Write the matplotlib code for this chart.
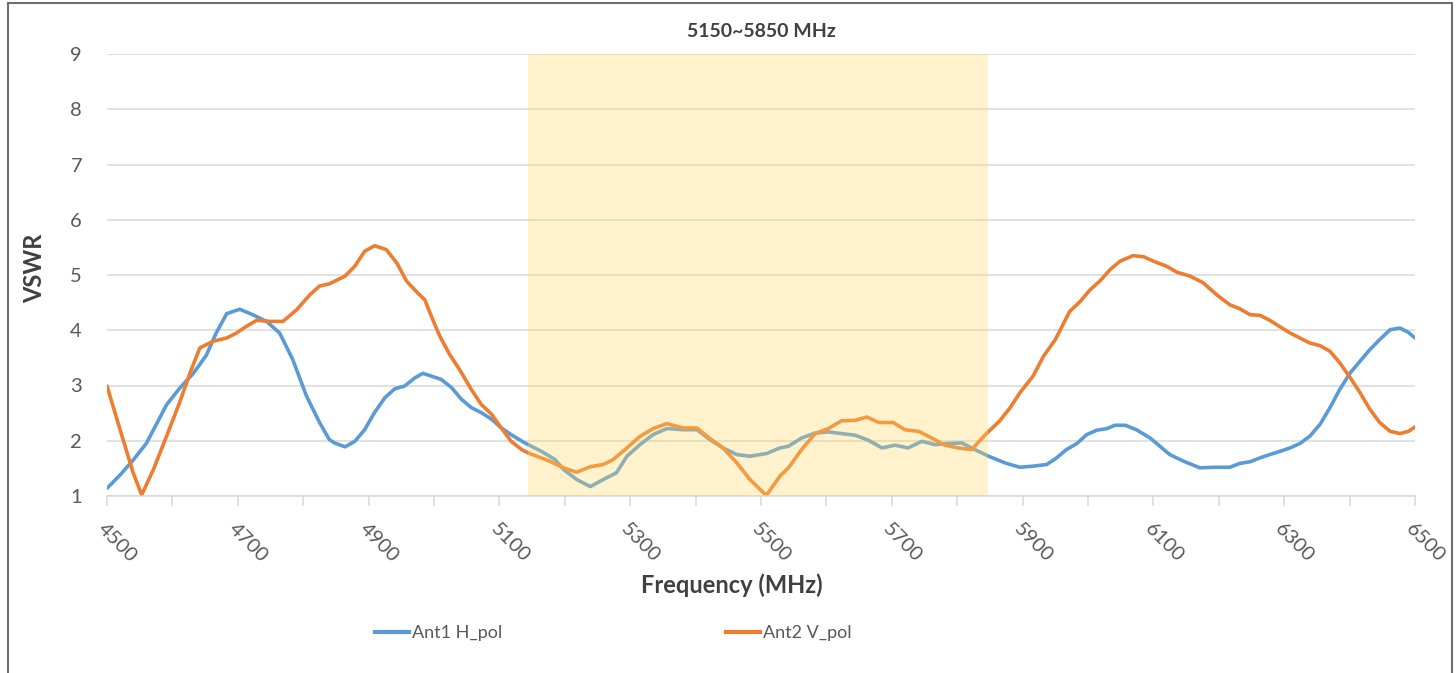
import matplotlib
matplotlib.use('Agg')
import matplotlib.pyplot as plt
from matplotlib.patches import Rectangle
from matplotlib.lines import Line2D

plt.rcParams['font.family'] = ['Lato', 'DejaVu Sans']

# Ant1 H_pol
freq_h = [4500, 4520, 4540, 4560, 4580, 4591, 4611, 4632, 4652, 4667, 4683, 4703,
          4723, 4744, 4764, 4784, 4805, 4825, 4840, 4848, 4864, 4879, 4894, 4909,
          4925, 4940, 4955, 4971, 4983, 4996, 5011, 5027, 5042, 5057, 5072, 5088,
          5103, 5118, 5139, 5164, 5185, 5198, 5218, 5239, 5259, 5279, 5295, 5315,
          5335, 5356, 5381, 5402, 5422, 5442, 5463, 5483, 5509, 5529, 5542, 5562,
          5583, 5603, 5623, 5644, 5664, 5685, 5705, 5725, 5746, 5766, 5786, 5807,
          5827, 5848, 5873, 5881, 5896, 5916, 5937, 5952, 5967, 5983, 5998, 6013,
          6029, 6041, 6057, 6074, 6095, 6110, 6125, 6146, 6171, 6192, 6217, 6232,
          6248, 6263, 6278, 6294, 6309, 6324, 6339, 6355, 6370, 6385, 6401, 6416,
          6431, 6446, 6462, 6477, 6490, 6500]
vswr_h = [1.14, 1.38, 1.65, 1.95, 2.40, 2.65, 2.95, 3.22, 3.55, 3.95, 4.30, 4.38,
          4.28, 4.16, 3.95, 3.47, 2.81, 2.33, 2.02, 1.96, 1.89, 1.99, 2.20, 2.51,
          2.78, 2.94, 2.99, 3.14, 3.22, 3.17, 3.11, 2.96, 2.75, 2.60, 2.51, 2.39,
          2.23, 2.11, 1.96, 1.81, 1.66, 1.48, 1.30, 1.17, 1.30, 1.42, 1.72, 1.93,
          2.11, 2.22, 2.20, 2.20, 2.02, 1.87, 1.75, 1.72, 1.77, 1.87, 1.90, 2.05,
          2.14, 2.16, 2.13, 2.10, 2.01, 1.87, 1.92, 1.87, 1.99, 1.93, 1.95, 1.96,
          1.84, 1.72, 1.60, 1.57, 1.52, 1.54, 1.57, 1.69, 1.84, 1.95, 2.11, 2.19,
          2.22, 2.28, 2.28, 2.20, 2.05, 1.90, 1.75, 1.63, 1.51, 1.52, 1.52, 1.59,
          1.62, 1.69, 1.75, 1.81, 1.87, 1.95, 2.08, 2.30, 2.60, 2.93, 3.23, 3.44,
          3.65, 3.83, 4.01, 4.04, 3.96, 3.86]

# Ant2 V_pol
freq_v = [4500, 4520, 4540, 4553, 4571, 4591, 4611, 4627, 4642, 4662, 4683, 4698,
          4713, 4729, 4749, 4769, 4790, 4810, 4825, 4840, 4864, 4879, 4894, 4909,
          4927, 4943, 4958, 4973, 4986, 4996, 5009, 5024, 5039, 5057, 5072, 5088,
          5103, 5118, 5134, 5144, 5177, 5198, 5218, 5239, 5259, 5274, 5295, 5315,
          5335, 5356, 5381, 5402, 5422, 5442, 5463, 5483, 5508, 5529, 5542, 5562,
          5583, 5603, 5623, 5644, 5662, 5680, 5702, 5720, 5741, 5761, 5781, 5802,
          5822, 5843, 5865, 5881, 5896, 5916, 5932, 5950, 5972, 5988, 6003, 6018,
          6034, 6049, 6069, 6085, 6100, 6120, 6136, 6156, 6176, 6197, 6217, 6232,
          6248, 6263, 6278, 6294, 6309, 6324, 6339, 6355, 6370, 6385, 6401, 6416,
          6431, 6446, 6462, 6477, 6490, 6500]
vswr_v = [2.99, 2.20, 1.42, 1.02, 1.48, 2.08, 2.69, 3.23, 3.68, 3.80, 3.86, 3.95,
          4.07, 4.18, 4.16, 4.16, 4.37, 4.64, 4.80, 4.84, 4.98, 5.16, 5.43, 5.53,
          5.46, 5.22, 4.89, 4.70, 4.55, 4.25, 3.89, 3.56, 3.29, 2.93, 2.66, 2.48,
          2.23, 1.99, 1.84, 1.78, 1.63, 1.51, 1.43, 1.53, 1.57, 1.66, 1.87, 2.08,
          2.22, 2.31, 2.23, 2.23, 2.04, 1.87, 1.60, 1.30, 1.01, 1.36, 1.51, 1.84,
          2.13, 2.22, 2.36, 2.37, 2.43, 2.33, 2.33, 2.20, 2.17, 2.05, 1.92, 1.87,
          1.84, 2.11, 2.36, 2.60, 2.87, 3.17, 3.53, 3.83, 4.34, 4.52, 4.73, 4.89,
          5.10, 5.25, 5.35, 5.33, 5.25, 5.16, 5.05, 4.98, 4.86, 4.64, 4.46, 4.39,
          4.28, 4.27, 4.18, 4.06, 3.95, 3.86, 3.77, 3.72, 3.62, 3.41, 3.14, 2.87,
          2.57, 2.33, 2.17, 2.13, 2.17, 2.25]

band = (5144, 5847)
band_label = '5150~5850 MHz'
x_ticks = list(range(4500, 6501, 100))
y_ticks = list(range(1, 10))

blue = '#5B9BD5'
orange = '#ED7D31'
grey_txt = '#595959'
grid_col = '#D9D9D9'

W, H = 1456, 673
fig = plt.figure(figsize=(W / 100, H / 100), dpi=100)
ax = fig.add_axes([107 / W, 1 - 496 / H, (1415 - 107) / W, (496 - 54) / H])

ax.plot(freq_h, vswr_h, color=blue, lw=2.6, zorder=2, solid_capstyle='round')
ax.plot(freq_v, vswr_v, color=orange, lw=2.6, zorder=2, solid_capstyle='round')
ax.axvspan(band[0], band[1], color='#FFD966', alpha=0.33, lw=0, zorder=3)

ax.set_xlim(4500, 6500)
ax.set_ylim(1, 9)
ax.set_yticks(y_ticks)
ax.set_xticks(x_ticks)
ax.set_xticklabels([str(t) if (t - 4500) % 200 == 0 else '' for t in x_ticks],
                   rotation=-45, ha='left', va='top', rotation_mode='anchor')
ax.grid(axis='y', color=grid_col, lw=1.1, zorder=0)
ax.set_axisbelow(True)
for s in ['top', 'right', 'left']:
    ax.spines[s].set_visible(False)
ax.spines['bottom'].set_color(grid_col)
ax.spines['bottom'].set_linewidth(1.1)
ax.tick_params(axis='x', length=7, color=grid_col, width=1.1, pad=10,
               labelsize=14.5, labelcolor=grey_txt)
ax.tick_params(axis='y', length=0, pad=18, labelsize=14.5, labelcolor=grey_txt)

ax.set_title(band_label, fontsize=14, fontweight='bold', color='#404040', pad=12)
fig.text(35 / W, 1 - 268 / H, 'VSWR', rotation=90, ha='center', va='center',
         fontsize=17, fontweight='bold', color='#404040')
fig.text(732 / W, 1 - 585 / H, 'Frequency (MHz)', ha='center', va='center',
         fontsize=17, fontweight='bold', color='#404040')

# legend entries, one for each series
for col, lab, x0 in [(blue, 'Ant1 H_pol', 375), (orange, 'Ant2 V_pol', 726)]:
    h = Line2D([], [], color=col, lw=3)
    fig.legend([h], [lab], loc='center left', bbox_to_anchor=(x0 / W, 1 - 633 / H),
               frameon=False, fontsize=13, handlelength=1.9, handletextpad=0.15,
               borderpad=0, borderaxespad=0, labelcolor=grey_txt)

# outer chart frame
fig.patches.append(Rectangle((8 / W, -0.01), (1452 - 8) / W, 1.01 - 3 / H,
                             transform=fig.transFigure, fill=False,
                             edgecolor='#6E6E6E', lw=1.5))

fig.savefig('out.png', dpi=100)
